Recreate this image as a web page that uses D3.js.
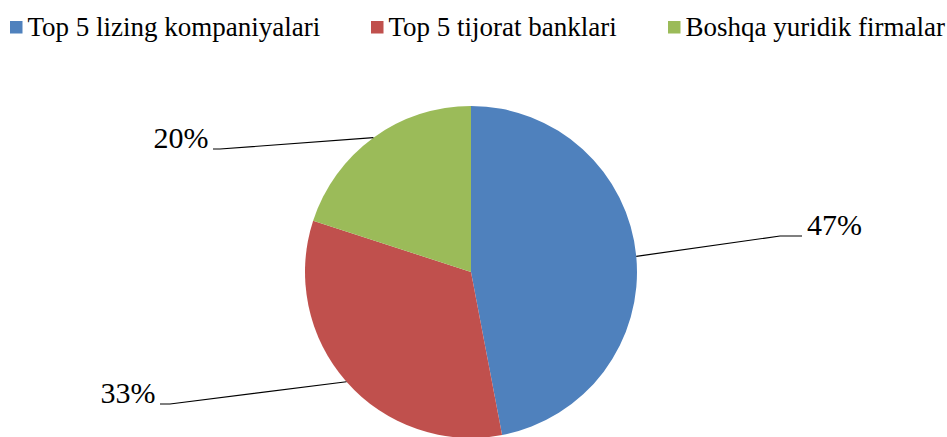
<!DOCTYPE html>
<html>
<head>
<meta charset="utf-8">
<script src="https://cdn.jsdelivr.net/npm/d3@7/dist/d3.min.js"></script>
<style>
html,body{margin:0;padding:0;background:#fff;}
svg{display:block;}
</style>
</head>
<body>
<svg id="chart" width="947" height="437"></svg>
<script>
const categories = ["Top 5 lizing kompaniyalari", "Top 5 tijorat banklari", "Boshqa yuridik firmalar"];
const values = [47, 33, 20];
const labels = ["47%", "33%", "20%"];
const colors = ["#4F81BD", "#C0504D", "#9BBB59"];

const FONT = "Liberation Serif";
const svg = d3.select("#chart");
const cx = 471, cy = 272, r = 166;

// Legend
const legendX = [10, 371, 668];
const leg = svg.append("g");
categories.forEach((c, i) => {
  const g = leg.append("g").attr("transform", `translate(${legendX[i]},0)`);
  g.append("rect").attr("x", 0).attr("y", 21).attr("width", 12.5).attr("height", 12.5).attr("fill", colors[i]);
  g.append("text").attr("x", 17.5).attr("y", 36).attr("font-size", 27)
    .attr("font-family", FONT).attr("fill", "#000").text(c);
});

// Pie
const pie = d3.pie().sort(null).value(d => d)(values);
const arc = d3.arc().innerRadius(0).outerRadius(r);
const g = svg.append("g").attr("transform", `translate(${cx},${cy})`);
g.selectAll("path.slice").data(pie).join("path")
  .attr("class", "slice")
  .attr("d", arc)
  .attr("fill", (d, i) => colors[i]);

// Leader lines and labels
const elbows = [
  {ex: 309, ey: -36, hx: 331, side: "right"},
  {ex: -301, ey: 132, hx: -311, side: "left"},
  {ex: -251, ey: -123, hx: -258, side: "left"}
];
pie.forEach((d, i) => {
  const a = (d.startAngle + d.endAngle) / 2;
  const sx = Math.sin(a) * r, sy = -Math.cos(a) * r;
  const e = elbows[i];
  g.append("polyline")
    .attr("points", `${sx},${sy} ${e.ex},${e.ey} ${e.hx},${e.ey}`)
    .attr("fill", "none").attr("stroke", "#000").attr("stroke-width", 1.2);
  g.append("text")
    .attr("x", e.side === "right" ? e.hx + 5 : e.hx - 4.5)
    .attr("y", e.ey - 1)
    .attr("text-anchor", e.side === "right" ? "start" : "end")
    .attr("font-size", 30)
    .attr("font-family", FONT).attr("fill", "#000")
    .text(labels[i]);
});
</script>
</body>
</html>
